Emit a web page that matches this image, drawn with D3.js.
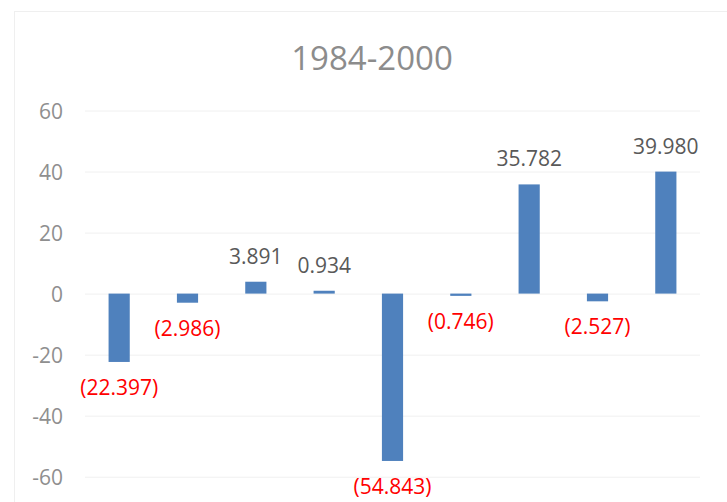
<!DOCTYPE html>
<html>
<head>
<meta charset="utf-8">
<script src="https://cdn.jsdelivr.net/npm/d3@7"></script>
<style>
  body { margin: 0; background: #fff; }
  svg { display: block; font-family: "Open Sans", "Liberation Sans", sans-serif; }
</style>
</head>
<body>
<div id="chart"></div>
<script>
(() => {
  const title = '1984-2000';
  const categories = ['1', '2', '3', '4', '5', '6', '7', '8', '9'];
  const values = [-22.397, -2.986, 3.891, 0.934, -54.843, -0.746, 35.782, -2.527, 39.980];
  const yTicks = [-60, -40, -20, 0, 20, 40, 60];

  const width = 727;
  const height = 502;
  const margin = { top: 110.5, right: 27, bottom: 25.3, left: 85 };

  const svg = d3.select('#chart').append('svg')
    .attr('width', width)
    .attr('height', height);

  // chart area frame
  svg.append('rect')
    .attr('x', 14.5).attr('y', 11.5)
    .attr('width', width).attr('height', height)
    .attr('fill', 'none')
    .attr('stroke', '#efefef');

  const x = d3.scaleBand()
    .domain(categories)
    .range([margin.left, width - margin.right])
    .paddingInner(0.69)
    .paddingOuter(0.345);

  const y = d3.scaleLinear()
    .domain([-60, 60])
    .range([height - margin.bottom, margin.top]);

  const yAxis = svg.append('g')
    .attr('transform', `translate(${margin.left},0)`)
    .call(d3.axisLeft(y)
      .tickValues(yTicks)
      .tickFormat(d => String(d))
      .tickSize(-(width - margin.left - margin.right))
      .tickPadding(22))
    .call(g => g.select('.domain').remove());

  yAxis.selectAll('.tick line').attr('stroke', '#f0f0f0');
  yAxis.selectAll('.tick text')
    .attr('fill', '#8f8f8f')
    .attr('dy', '0.36em')
    .style('font-size', '21px')
    .style('font-family', '"Open Sans", sans-serif');

  svg.append('text')
    .attr('x', 372)
    .attr('y', 70)
    .attr('text-anchor', 'middle')
    .attr('fill', '#8c8c8c')
    .style('font-size', '33px')
    .text(title);

  const data = categories.map((c, i) => ({ c, v: values[i] }));

  svg.append('g').selectAll('rect')
    .data(data)
    .join('rect')
    .attr('x', d => x(d.c))
    .attr('width', x.bandwidth())
    .attr('y', d => y(Math.max(0, d.v)))
    .attr('height', d => Math.abs(y(d.v) - y(0)))
    .attr('fill', '#4f81bd');

  svg.append('g').selectAll('text')
    .data(data)
    .join('text')
    .attr('x', d => x(d.c) + x.bandwidth() / 2)
    .attr('y', d => d.v >= 0 ? y(d.v) - 18 : y(d.v) + 33)
    .attr('text-anchor', 'middle')
    .attr('fill', d => d.v >= 0 ? '#595959' : '#ff0000')
    .style('font-size', '21px')
    .text(d => d.v >= 0 ? d.v.toFixed(3) : `(${Math.abs(d.v).toFixed(3)})`);
})();
</script>
</body>
</html>
